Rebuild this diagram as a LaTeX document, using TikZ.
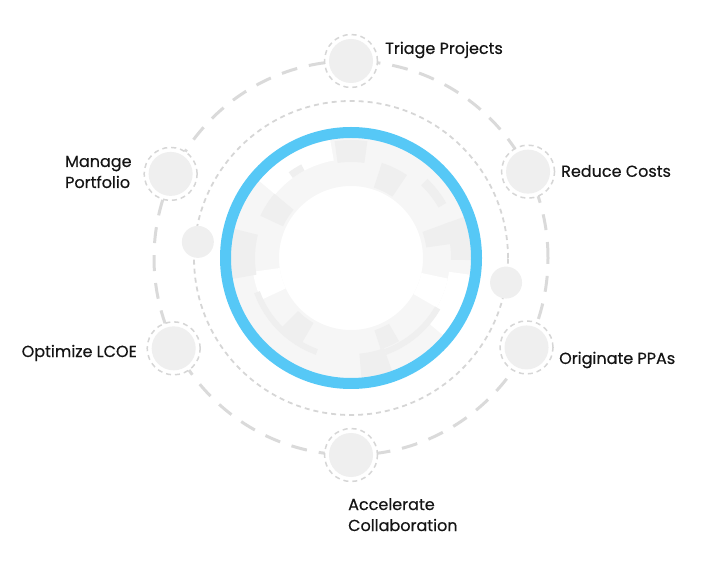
\documentclass[tikz,border=0pt]{standalone}
\usepackage{fontspec}
\setmainfont{Poppins}[FakeBold=0.5]
\usetikzlibrary{calc}
\definecolor{ringblue}{HTML}{56C8F6}
\definecolor{bigdash}{HTML}{DADADA}
\definecolor{dotring}{HTML}{D6D6D6}
\definecolor{nodefill}{HTML}{EFEFEF}
\definecolor{segA}{HTML}{F6F6F6}
\definecolor{segB}{HTML}{EFEFEF}
\definecolor{txt}{HTML}{141414}
\newcommand\annseg[5]{\fill[#1] (#2:#4) arc[start angle=#2,end angle=#3,radius=#4] -- (#3:#5) arc[start angle=#3,end angle=#2,radius=#5] -- cycle;}
\tikzset{
  bignode/.style={circle, minimum size=53pt, inner sep=0pt, fill=white, draw=dotring, line width=1.5pt, dash pattern=on 5pt off 4pt,
    path picture={\fill[nodefill] (path picture bounding box.center) circle (22pt);}},
  smallnode/.style={circle, minimum size=32pt, inner sep=0pt, fill=nodefill},
  lbl/.style={font=\fontsize{16}{21}\selectfont, text=txt, inner sep=0pt, align=left}
}
\begin{document}
\begin{tikzpicture}[x=1pt,y=1pt]
\useasboundingbox (0,0) rectangle (712,584);
\coordinate (c) at (351,326);
% outer dashed circle
\draw[bigdash, line width=3pt, dash pattern=on 16pt off 12pt] (c) circle (197);
% inner dotted circle
\draw[dotring, line width=1.8pt, dash pattern=on 5pt off 4pt] (c) circle (157);
% inner decorative segments
\begin{scope}[shift={(c)}]
  \annseg{segA}{0}{360}{120}{72}
  % white gaps
  \annseg{white}{100}{140}{120}{99}
  \annseg{white}{-40}{-8}{120}{99}
  \annseg{white}{188}{205}{99}{72}
  \annseg{white}{-30}{-12}{99}{72}
  % darker patches
  \annseg{segB}{82}{98}{118}{96}
  \annseg{segB}{56}{72}{100}{74}
  \annseg{segB}{8}{20}{104}{76}
  \annseg{segB}{-1}{20}{120}{100}
  \annseg{segB}{30}{46}{110}{101}
  \annseg{segB}{166}{190}{120}{96}
  \annseg{segB}{140}{155}{100}{75}
  \annseg{segB}{118}{126}{106}{99}
  \annseg{segB}{200}{250}{103}{97}
  \annseg{segB}{225}{240}{100}{75}
  \annseg{segB}{275}{290}{120}{96}
  \annseg{segB}{288}{300}{96}{76}
  \annseg{segB}{290}{330}{103}{97}
\end{scope}
% blue ring
\draw[ringblue, line width=11pt] (c) circle (125.5);
% small circles on dotted ring
\node[smallnode] (s1) at ($(c)+(174:154)$) {};
\node[smallnode] (s2) at ($(c)+(-9:157)$) {};
% outer nodes
\node[bignode] (n1) at ($(c)+(90:197)$) {};
\node[bignode] (n2) at ($(c)+(26:197)$) {};
\node[bignode] (n3) at ($(c)+(-27:197)$) {};
\node[bignode] (n4) at ($(c)+(-90:197)$) {};
\node[bignode] (n5) at ($(c)+(207:199)$) {};
\node[bignode] (n6) at ($(c)+(155:199)$) {};
% labels
\node[lbl, anchor=west] (l1) at (385,534) {Triage Projects};
\node[lbl, anchor=west] (l2) at (561,413) {Reduce Costs};
\node[lbl, anchor=west] (l3) at (559,224) {Originate PPAs};
\node[lbl, anchor=north west] (l4) at (348,86) {Accelerate\\Collaboration};
\node[lbl, anchor=east] (l5) at (137,231) {Optimize LCOE};
\node[lbl, anchor=west] (l6) at (65,412) {Manage\\Portfolio};
\end{tikzpicture}
\end{document}
